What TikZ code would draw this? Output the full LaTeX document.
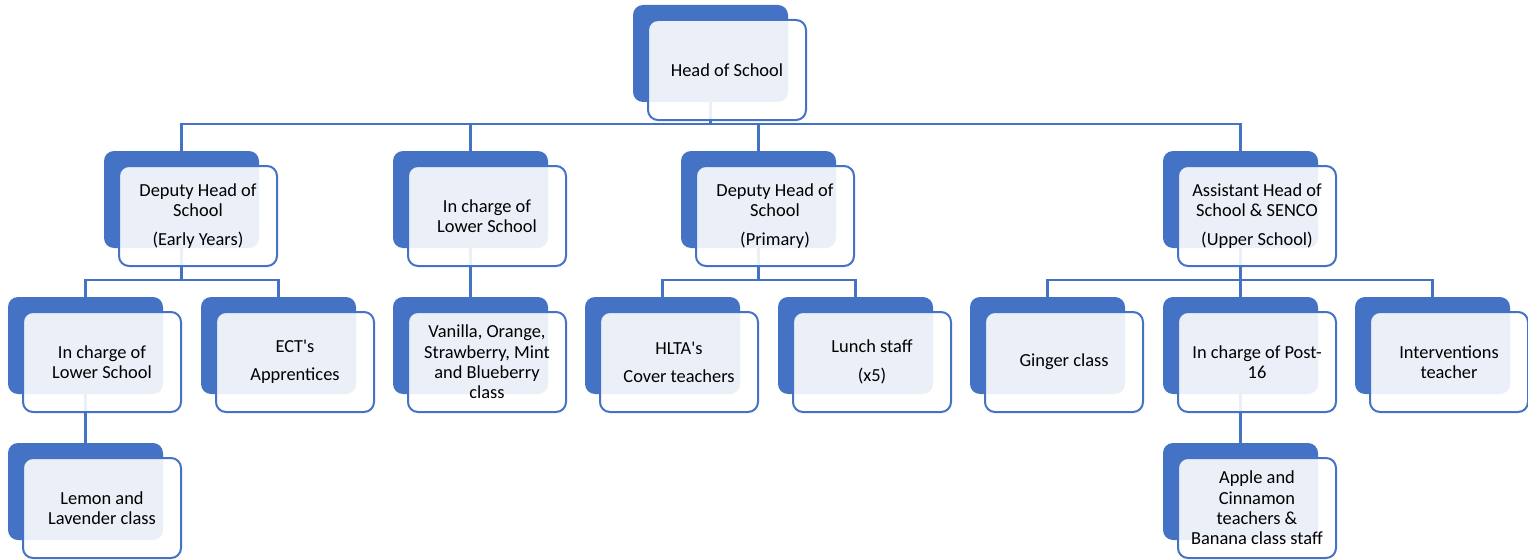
\documentclass[tikz,border=0pt]{standalone}
\usepackage{fontspec}
\setmainfont{Carlito}
\pgfdeclarelayer{background}
\pgfsetlayers{background,main}
\definecolor{accent}{HTML}{4472C4}
\tikzset{
  backbox/.style={fill=accent, rounded corners=7.5pt, minimum width=116.25pt, minimum height=72.75pt, inner sep=0pt},
  frontbox/.style={fill=white, fill opacity=0.89, text opacity=1, draw=accent, draw opacity=1, line width=1.5pt, rounded corners=7.5pt, minimum width=118.5pt, minimum height=75pt, inner sep=0pt, align=center, text=black, font=\fontsize{13.8}{15.2}\selectfont},
  conn/.style={draw=accent, line width=1.6pt}
}
\newcommand\obox[4]{%
  \node[backbox] (#1) at ({#2+77.5},{#3+48.5}) {};
  \node[frontbox] (#1f) at ({#2+94},{#3+65}) {#4};
}
\begin{document}
\begin{tikzpicture}[x=0.75pt,y=-0.75pt]
\useasboundingbox (0,0) rectangle (1528,560);
\coordinate (b0) at (0,124);
\coordinate (b1) at (0,280);
% level 0
\obox{head}{633}{5}{Head of School}
% level 1
\obox{dep1}{104}{151}{Deputy Head of\\School\\[6pt](Early Years)}
\obox{lsch}{393}{151}{In charge of\\Lower School}
\obox{prim}{681}{151}{Deputy Head of\\School\\[6pt](Primary)}
\obox{asst}{1163}{151}{Assistant Head of\\School \& SENCO\\[6pt](Upper School)}
% level 2
\obox{ra}{8}{297}{In charge of\\Lower School}
\obox{rb}{201}{297}{ECT\textquotesingle s\\[6pt]Apprentices}
\obox{rc}{393}{297}{Vanilla, Orange,\\Strawberry, Mint\\and Blueberry\\class}
\obox{rd}{585}{297}{HLTA\textquotesingle s\\[6pt]Cover teachers}
\obox{re}{778}{297}{Lunch staff\\[6pt](x5)}
\obox{rf}{970}{297}{Ginger class}
\obox{rg}{1163}{297}{In charge of Post-\\16}
\obox{rh}{1355}{297}{Interventions\\teacher}
% level 3
\obox{sa}{8}{443}{Lemon and\\Lavender class}
\obox{sb}{1163}{443}{Apple and\\Cinnamon\\teachers \&\\Banana class staff}
\begin{pgfonlayer}{background}
\draw[conn] (head.south) -- (head.south |- b0);
\draw[conn] (dep1.north) |- (asst.north |- b0) -- (asst.north);
\draw[conn] (lsch.north) -- (lsch.north |- b0);
\draw[conn] (prim.north) -- (prim.north |- b0);
\draw[conn] (dep1.south) -- (dep1.south |- b1);
\draw[conn] (ra.north) |- (rb.north |- b1) -- (rb.north);
\draw[conn] (lsch.south) -- (rc.north);
\draw[conn] (prim.south) -- (prim.south |- b1);
\draw[conn] (rd.north) |- (re.north |- b1) -- (re.north);
\draw[conn] (asst.south) -- (asst.south |- b1);
\draw[conn] (rf.north) |- (rh.north |- b1) -- (rh.north);
\draw[conn] (rg.north) -- (rg.north |- b1);
\draw[conn] (ra.south) -- (sa.north);
\draw[conn] (rg.south) -- (sb.north);
\end{pgfonlayer}
\end{tikzpicture}
\end{document}
